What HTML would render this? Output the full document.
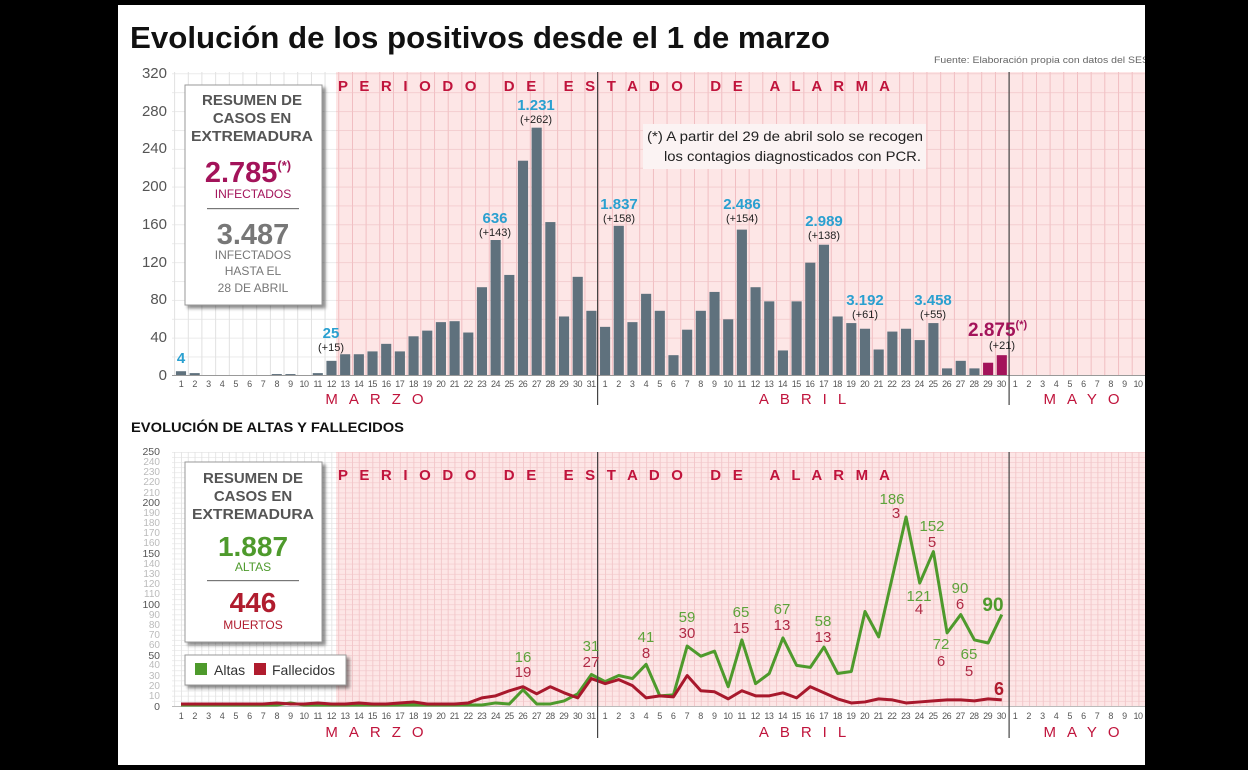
<!DOCTYPE html>
<html><head><meta charset="utf-8"><style>
html,body{margin:0;padding:0;background:#000;}
#wrap{position:relative;width:1248px;height:770px;background:#000;overflow:hidden;font-family:"Liberation Sans",sans-serif;}
svg{position:absolute;left:0;top:0;}
.days{position:absolute;left:174.16px;display:flex;font:9px "Liberation Sans",sans-serif;color:#555;}
.days i{font-style:normal;width:13.68px;text-align:center;display:block;letter-spacing:-0.5px;}
#cover{position:absolute;left:1145px;top:0;width:103px;height:770px;background:#000;}
</style></head><body><div id="wrap">
<svg width="1248" height="770" viewBox="0 0 1248 770" font-family="Liberation Sans, sans-serif">
<defs>
<pattern id="vw" patternUnits="userSpaceOnUse" x="174.16" y="0" width="13.68" height="10"><rect width="0.8" height="10" fill="#d9d9d9"/></pattern>
<pattern id="vp" patternUnits="userSpaceOnUse" x="174.16" y="0" width="13.68" height="10"><rect width="0.8" height="10" fill="#eeb4b9"/></pattern>
<pattern id="hw" patternUnits="userSpaceOnUse" x="0" y="375.5" width="10" height="18.88"><rect width="10" height="0.7" fill="#e2e2e2"/></pattern>
<pattern id="hp" patternUnits="userSpaceOnUse" x="0" y="375.5" width="10" height="18.88"><rect width="10" height="0.7" fill="#f0c4c7"/></pattern>
<pattern id="vw2" patternUnits="userSpaceOnUse" x="174.16" y="0" width="6.84" height="10"><rect width="0.7" height="10" fill="#dcdcdc"/></pattern>
<pattern id="vp2" patternUnits="userSpaceOnUse" x="174.16" y="0" width="6.84" height="10"><rect width="0.7" height="10" fill="#efbcc0"/></pattern>
<pattern id="hw2" patternUnits="userSpaceOnUse" x="0" y="706" width="10" height="5.08"><rect width="10" height="0.6" fill="#e2e2e2"/></pattern>
<pattern id="hp2" patternUnits="userSpaceOnUse" x="0" y="706" width="10" height="5.08"><rect width="10" height="0.6" fill="#f1c6c9"/></pattern>
<filter id="sh" x="-10%" y="-10%" width="130%" height="130%"><feDropShadow dx="3" dy="3" stdDeviation="1.5" flood-color="#000" flood-opacity="0.45"/></filter>
</defs>
<rect x="118" y="5" width="1027" height="760" fill="#fff"/>
<text x="130" y="48" font-size="31" font-weight="bold" fill="#111" textLength="700" lengthAdjust="spacingAndGlyphs">Evolución de los positivos desde el 1 de marzo</text>
<text x="934" y="63" font-size="9.5" fill="#666" textLength="215" lengthAdjust="spacingAndGlyphs">Fuente: Elaboración propia con datos del SES</text>

<rect x="172" y="72" width="164" height="304" fill="#fff"/>
<rect x="172" y="72" width="164" height="304" fill="url(#vw)"/>
<rect x="172" y="72" width="164" height="304" fill="url(#hw)"/>
<rect x="336" y="72" width="809" height="304" fill="#fde6e6"/>
<rect x="336" y="72" width="809" height="304" fill="url(#vp)"/>
<rect x="336" y="72" width="809" height="304" fill="url(#hp)"/>
<rect x="172" y="375" width="973" height="1" fill="#999"/>
<g font-size="15" fill="#555" text-anchor="end">
<text x="167" y="380">0</text><text x="167" y="342">40</text><text x="167" y="304">80</text><text x="167" y="267">120</text><text x="167" y="229">160</text><text x="167" y="191">200</text><text x="167" y="153">240</text><text x="167" y="116">280</text><text x="167" y="78">320</text>
</g>
<g transform="translate(181 375) scale(13.68 -0.944)" fill="#5f717d">
<rect x="-0.37" width="0.74" height="4"/><rect x="0.63" width="0.74" height="2"/><rect x="6.63" width="0.74" height="1"/><rect x="7.63" width="0.74" height="1"/><rect x="9.63" width="0.74" height="2"/>
<rect x="10.63" width="0.74" height="15"/><rect x="11.63" width="0.74" height="22"/><rect x="12.63" width="0.74" height="22"/><rect x="13.63" width="0.74" height="25"/><rect x="14.63" width="0.74" height="33"/><rect x="15.63" width="0.74" height="25"/><rect x="16.63" width="0.74" height="41"/><rect x="17.63" width="0.74" height="47"/><rect x="18.63" width="0.74" height="56"/><rect x="19.63" width="0.74" height="57"/><rect x="20.63" width="0.74" height="45"/><rect x="21.63" width="0.74" height="93"/><rect x="22.63" width="0.74" height="143"/><rect x="23.63" width="0.74" height="106"/><rect x="24.63" width="0.74" height="227"/><rect x="25.63" width="0.74" height="262"/><rect x="26.63" width="0.74" height="162"/><rect x="27.63" width="0.74" height="62"/><rect x="28.63" width="0.74" height="104"/><rect x="29.63" width="0.74" height="68"/>
<rect x="30.63" width="0.74" height="51"/><rect x="31.63" width="0.74" height="158"/><rect x="32.63" width="0.74" height="56"/><rect x="33.63" width="0.74" height="86"/><rect x="34.63" width="0.74" height="68"/><rect x="35.63" width="0.74" height="21"/><rect x="36.63" width="0.74" height="48"/><rect x="37.63" width="0.74" height="68"/><rect x="38.63" width="0.74" height="88"/><rect x="39.63" width="0.74" height="59"/><rect x="40.63" width="0.74" height="154"/><rect x="41.63" width="0.74" height="93"/><rect x="42.63" width="0.74" height="78"/><rect x="43.63" width="0.74" height="26"/><rect x="44.63" width="0.74" height="78"/><rect x="45.63" width="0.74" height="119"/><rect x="46.63" width="0.74" height="138"/><rect x="47.63" width="0.74" height="62"/><rect x="48.63" width="0.74" height="55"/><rect x="49.63" width="0.74" height="49"/><rect x="50.63" width="0.74" height="27"/><rect x="51.63" width="0.74" height="46"/><rect x="52.63" width="0.74" height="49"/><rect x="53.63" width="0.74" height="37"/><rect x="54.63" width="0.74" height="55"/><rect x="55.63" width="0.74" height="7"/><rect x="56.63" width="0.74" height="15"/><rect x="57.63" width="0.74" height="7"/>
<rect x="58.63" width="0.74" height="13" fill="#a3135a"/><rect x="59.63" width="0.74" height="21" fill="#a3135a"/>
</g>
<rect x="597" y="72" width="1.2" height="333" fill="#444"/>
<rect x="1008.5" y="72" width="1.2" height="333" fill="#444"/>
<text x="338" y="91" font-size="15" font-weight="bold" fill="#c0143c" textLength="552" lengthAdjust="spacing" xml:space="preserve">P E R I O D O   D E   E S T A D O   D E   A L A R M A</text>
<rect x="643" y="124" width="283" height="45" fill="#fbf3f3"/>
<text x="647" y="141" font-size="14" fill="#222" textLength="276" lengthAdjust="spacingAndGlyphs">(*) A partir del 29 de abril solo se recogen</text>
<text x="664" y="161" font-size="14" fill="#222" textLength="257" lengthAdjust="spacingAndGlyphs">los contagios diagnosticados con PCR.</text>
<g font-weight="bold" font-size="15" fill="#2aa0d0" text-anchor="middle">
<text x="181" y="363">4</text><text x="331" y="338">25</text><text x="495" y="223">636</text><text x="536" y="110">1.231</text><text x="619" y="209">1.837</text><text x="742" y="209">2.486</text><text x="824" y="226">2.989</text><text x="865" y="305">3.192</text><text x="933" y="305">3.458</text>
</g>
<g font-size="11" fill="#222" text-anchor="middle">
<text x="331" y="351">(+15)</text><text x="495" y="236">(+143)</text><text x="536" y="123">(+262)</text><text x="619" y="222">(+158)</text><text x="742" y="222">(+154)</text><text x="824" y="239">(+138)</text><text x="865" y="318">(+61)</text><text x="933" y="318">(+55)</text><text x="1002" y="349">(+21)</text>
</g>
<text x="968" y="336" font-size="19" font-weight="bold" fill="#a3135a">2.875<tspan font-size="11" dy="-8">(*)</tspan></text>
<rect x="185" y="85" width="137" height="220" fill="#fff" stroke="#999" stroke-width="1" filter="url(#sh)"/>
<g text-anchor="middle" font-weight="bold">
<text x="252" y="105" font-size="15" fill="#555">RESUMEN DE</text>
<text x="252" y="123" font-size="15" fill="#555">CASOS EN</text>
<text x="252" y="141" font-size="15" fill="#555" textLength="122" lengthAdjust="spacingAndGlyphs">EXTREMADURA</text>
<text x="248" y="182" font-size="29" fill="#a3135a">2.785<tspan font-size="13" dy="-12">(*)</tspan></text>
<text x="253" y="198" font-size="12" fill="#a3135a" font-weight="normal">INFECTADOS</text>
<text x="253" y="244" font-size="29" fill="#777">3.487</text>
</g>
<rect x="207" y="208" width="92" height="1.2" fill="#777"/>
<g text-anchor="middle" font-size="12" fill="#777">
<text x="253" y="259">INFECTADOS</text><text x="253" y="275">HASTA EL</text><text x="253" y="292">28 DE ABRIL</text>
</g>
<g text-anchor="middle" font-size="15" fill="#c0143c" letter-spacing="11">
<text x="380" y="404">MARZO</text><text x="808" y="404">ABRIL</text><text x="1087" y="404">MAYO</text>
</g>

<text x="131" y="432" font-size="14" font-weight="bold" fill="#111" textLength="273" lengthAdjust="spacingAndGlyphs">EVOLUCIÓN DE ALTAS Y FALLECIDOS</text>
<rect x="172" y="452" width="164" height="254" fill="#fff"/>
<rect x="172" y="452" width="164" height="254" fill="url(#vw2)"/>
<rect x="172" y="452" width="164" height="254" fill="url(#hw2)"/>
<rect x="336" y="452" width="809" height="254" fill="#fde6e6"/>
<rect x="336" y="452" width="809" height="254" fill="url(#vp2)"/>
<rect x="336" y="452" width="809" height="254" fill="url(#hp2)"/>
<rect x="172" y="706" width="973" height="1" fill="#bbb"/>
<g font-size="10" fill="#bbb" text-anchor="end">
<text x="160" y="699">10</text><text x="160" y="689">20</text><text x="160" y="679">30</text><text x="160" y="668">40</text><text x="160" y="648">60</text><text x="160" y="638">70</text><text x="160" y="628">80</text><text x="160" y="618">90</text><text x="160" y="597">110</text><text x="160" y="587">120</text><text x="160" y="577">130</text><text x="160" y="567">140</text><text x="160" y="546">160</text><text x="160" y="536">170</text><text x="160" y="526">180</text><text x="160" y="516">190</text><text x="160" y="496">210</text><text x="160" y="485">220</text><text x="160" y="475">230</text><text x="160" y="465">240</text>
</g>
<g font-size="10.5" fill="#555" text-anchor="end">
<text x="160" y="710">0</text><text x="160" y="659">50</text><text x="160" y="608">100</text><text x="160" y="557">150</text><text x="160" y="506">200</text><text x="160" y="455">250</text>
</g>
<g transform="translate(181 706) scale(13.68 -1.016)" fill="none" stroke-linejoin="round">
<polyline vector-effect="non-scaling-stroke" stroke="#4e9a2c" stroke-width="3" points="0,1 1,1 2,1 3,1 4,1 5,1 6,1 7,1 8,3 9,1 10,1 11,1 12,1 13,1 14,1 15,1 16,1 17,1 18,1 19,1 20,1 21,1 22,1 23,3 24,2 25,16 26,2 27,2 28,5 29,12 30,31 31,24 32,30 33,27 34,41 35,10 36,11 37,59 38,49 39,54 40,19 41,65 42,22 43,32 44,67 45,40 46,38 47,58 48,32 49,34 50,93 51,68 52,127 53,186 54,121 55,152 56,72 57,90 58,65 59,62 60,90"/>
<polyline vector-effect="non-scaling-stroke" stroke="#a8182c" stroke-width="3" points="0,2 1,2 2,2 3,2 4,2 5,2 6,2 7,3 8,2 9,2 10,3 11,2 12,2 13,3 14,2 15,2 16,3 17,4 18,2 19,2 20,2 21,3 22,8 23,10 24,15 25,19 26,12 27,19 28,13 29,8 30,27 31,22 32,26 33,20 34,8 35,10 36,9 37,30 38,15 39,14 40,7 41,15 42,10 43,10 44,13 45,8 46,19 47,13 48,7 49,3 50,4 51,7 52,6 53,3 54,4 55,5 56,6 57,6 58,5 59,7 60,6"/>
</g>
<rect x="597" y="452" width="1.2" height="286" fill="#444"/>
<rect x="1008.5" y="452" width="1.2" height="286" fill="#444"/>
<text x="338" y="480" font-size="15" font-weight="bold" fill="#c0143c" textLength="552" lengthAdjust="spacing" xml:space="preserve">P E R I O D O   D E   E S T A D O   D E   A L A R M A</text>
<g font-size="15" fill="#5da33a" text-anchor="middle">
<text x="523" y="662">16</text><text x="591" y="651">31</text><text x="646" y="642">41</text><text x="687" y="622">59</text><text x="741" y="617">65</text><text x="782" y="614">67</text><text x="823" y="626">58</text><text x="892" y="504">186</text><text x="932" y="531">152</text><text x="919" y="601">121</text><text x="941" y="649">72</text><text x="960" y="593">90</text><text x="969" y="659">65</text>
</g>
<g font-size="15" fill="#b02a45" text-anchor="middle">
<text x="523" y="677">19</text><text x="591" y="667">27</text><text x="646" y="658">8</text><text x="687" y="638">30</text><text x="741" y="633">15</text><text x="782" y="630">13</text><text x="823" y="642">13</text><text x="896" y="518">3</text><text x="932" y="547">5</text><text x="919" y="614">4</text><text x="941" y="666">6</text><text x="960" y="609">6</text><text x="969" y="676">5</text>
</g>
<text x="993" y="611" font-size="19" font-weight="bold" fill="#4e9a2c" text-anchor="middle">90</text>
<text x="999" y="695" font-size="18" font-weight="bold" fill="#b01c2e" text-anchor="middle">6</text>
<rect x="185" y="462" width="137" height="180" fill="#fff" stroke="#999" stroke-width="1" filter="url(#sh)"/>
<g text-anchor="middle" font-weight="bold">
<text x="253" y="483" font-size="15" fill="#555">RESUMEN DE</text>
<text x="253" y="501" font-size="15" fill="#555">CASOS EN</text>
<text x="253" y="519" font-size="15" fill="#555" textLength="122" lengthAdjust="spacingAndGlyphs">EXTREMADURA</text>
<text x="253" y="556" font-size="28" fill="#4e9a2c">1.887</text>
<text x="253" y="612" font-size="28" fill="#b01c2e">446</text>
</g>
<text x="253" y="571" font-size="12" fill="#4e9a2c" text-anchor="middle">ALTAS</text>
<rect x="207" y="580" width="92" height="1.2" fill="#777"/>
<text x="253" y="629" font-size="12" fill="#b01c2e" text-anchor="middle">MUERTOS</text>
<rect x="185" y="655" width="161" height="30" fill="#fff" stroke="#999" stroke-width="1" filter="url(#sh)"/>
<rect x="195" y="663" width="12" height="12" fill="#4e9a2c"/>
<text x="214" y="675" font-size="14" fill="#333">Altas</text>
<rect x="254" y="663" width="12" height="12" fill="#b01c2e"/>
<text x="272" y="675" font-size="14" fill="#333">Fallecidos</text>
<g text-anchor="middle" font-size="15" fill="#c0143c" letter-spacing="11">
<text x="380" y="737">MARZO</text><text x="808" y="737">ABRIL</text><text x="1087" y="737">MAYO</text>
</g>
</svg>
<div class="days" style="top:379px"><i>1</i><i>2</i><i>3</i><i>4</i><i>5</i><i>6</i><i>7</i><i>8</i><i>9</i><i>10</i><i>11</i><i>12</i><i>13</i><i>14</i><i>15</i><i>16</i><i>17</i><i>18</i><i>19</i><i>20</i><i>21</i><i>22</i><i>23</i><i>24</i><i>25</i><i>26</i><i>27</i><i>28</i><i>29</i><i>30</i><i>31</i><i>1</i><i>2</i><i>3</i><i>4</i><i>5</i><i>6</i><i>7</i><i>8</i><i>9</i><i>10</i><i>11</i><i>12</i><i>13</i><i>14</i><i>15</i><i>16</i><i>17</i><i>18</i><i>19</i><i>20</i><i>21</i><i>22</i><i>23</i><i>24</i><i>25</i><i>26</i><i>27</i><i>28</i><i>29</i><i>30</i><i>1</i><i>2</i><i>3</i><i>4</i><i>5</i><i>6</i><i>7</i><i>8</i><i>9</i><i>10</i></div>
<div class="days" style="top:711px"><i>1</i><i>2</i><i>3</i><i>4</i><i>5</i><i>6</i><i>7</i><i>8</i><i>9</i><i>10</i><i>11</i><i>12</i><i>13</i><i>14</i><i>15</i><i>16</i><i>17</i><i>18</i><i>19</i><i>20</i><i>21</i><i>22</i><i>23</i><i>24</i><i>25</i><i>26</i><i>27</i><i>28</i><i>29</i><i>30</i><i>31</i><i>1</i><i>2</i><i>3</i><i>4</i><i>5</i><i>6</i><i>7</i><i>8</i><i>9</i><i>10</i><i>11</i><i>12</i><i>13</i><i>14</i><i>15</i><i>16</i><i>17</i><i>18</i><i>19</i><i>20</i><i>21</i><i>22</i><i>23</i><i>24</i><i>25</i><i>26</i><i>27</i><i>28</i><i>29</i><i>30</i><i>1</i><i>2</i><i>3</i><i>4</i><i>5</i><i>6</i><i>7</i><i>8</i><i>9</i><i>10</i></div>
<div id="cover"></div>
</div></body></html>
